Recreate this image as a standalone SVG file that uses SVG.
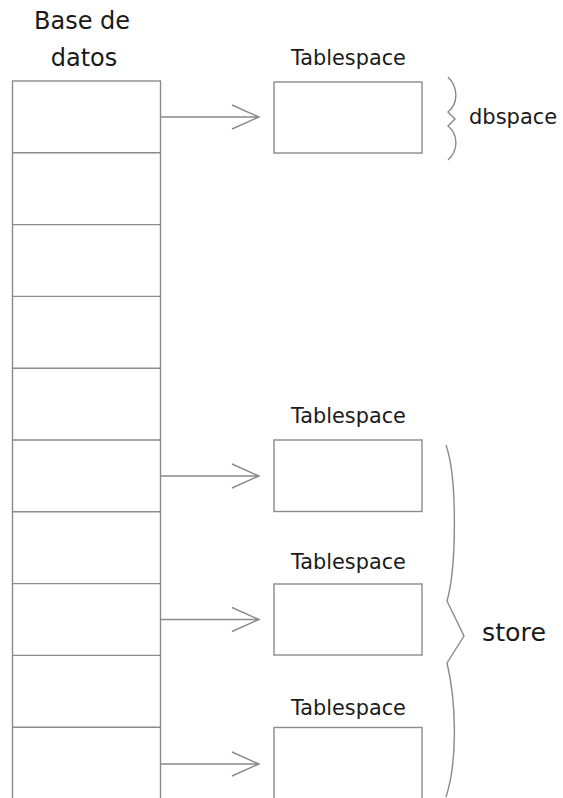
<svg xmlns="http://www.w3.org/2000/svg" width="563" height="798" viewBox="0 0 563 798">
<style>
.ln{fill:none;stroke:#8a8a8a;stroke-width:1.4}
.box{fill:#fff;stroke:#8a8a8a;stroke-width:1.4}
.t{font-family:"DejaVu Sans","Noto Sans",sans-serif;fill:#1a1a1a}
.ts{font-size:20.8px;text-anchor:middle}
</style>
<rect width="563" height="798" fill="#fff"/>
<g id="database">
<text class="t" x="82" y="29" font-size="24" text-anchor="middle">Base de</text>
<text class="t" x="84" y="66" font-size="24" text-anchor="middle">datos</text>
<rect class="box" x="12.5" y="81" width="148" height="730"/>
<path class="ln" d="M12.5,152.8H160.5M12.5,224.6H160.5M12.5,296.4H160.5M12.5,368.2H160.5M12.5,440H160.5M12.5,511.8H160.5M12.5,583.6H160.5M12.5,655.4H160.5M12.5,727.2H160.5"/>
</g>
<g id="ts1">
<text class="t ts" x="348.5" y="65">Tablespace</text>
<rect class="box" x="274" y="82" width="148" height="71"/>
</g>
<g id="ts2">
<text class="t ts" x="348.5" y="423">Tablespace</text>
<rect class="box" x="274" y="440" width="148" height="71.5"/>
</g>
<g id="ts3">
<text class="t ts" x="348.5" y="569">Tablespace</text>
<rect class="box" x="274" y="584" width="148" height="71"/>
</g>
<g id="ts4">
<text class="t ts" x="348.5" y="715">Tablespace</text>
<rect class="box" x="274" y="727.5" width="148" height="80"/>
</g>
<g id="dbspace">
<path class="ln" d="M448,77 C459,88 458,104 448,112 L455,119 L448,126 C458,134 459,150 448,160"/>
<text class="t" x="469" y="124" font-size="21">dbspace</text>
</g>
<g id="store">
<path class="ln" d="M446,445 C458,480 456,570 447,601 L464,636 L447,663 C456,700 458,760 446,797"/>
<text class="t" x="482" y="641" font-size="25.3">store</text>
</g>
<g id="connectors">
<path class="ln" d="M160.5,117H259M232,105L259,117L232,129"/>
<path class="ln" d="M160.5,476H259M232,464L259,476L232,488"/>
<path class="ln" d="M160.5,619.5H259M232,607.5L259,619.5L232,631.5"/>
<path class="ln" d="M160.5,764H259M232,752L259,764L232,776"/>
</g>
</svg>
